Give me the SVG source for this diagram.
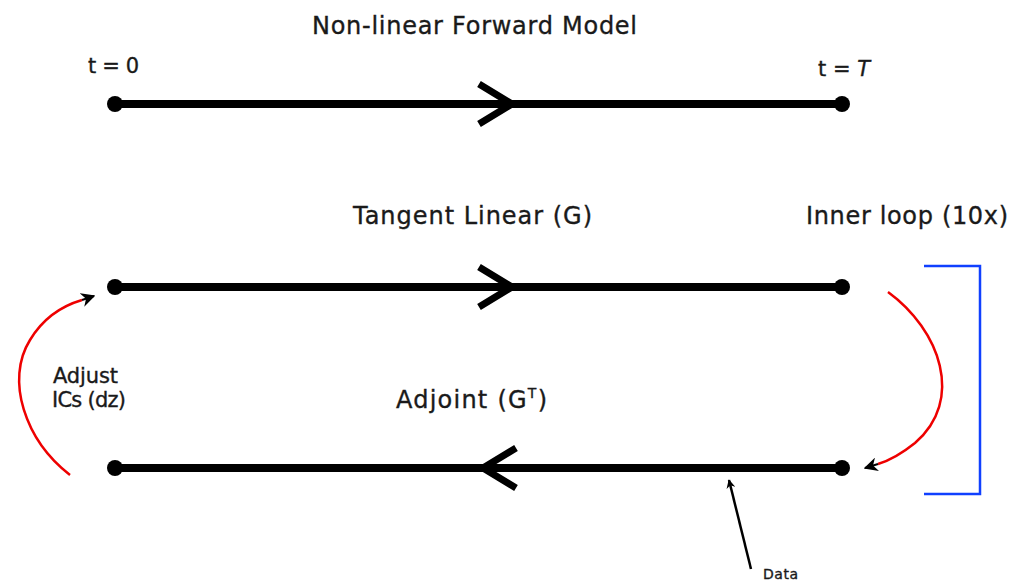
<svg xmlns="http://www.w3.org/2000/svg" width="1011" height="581" viewBox="0 0 1011 581">
<style>
text{font-family:"DejaVu Sans","Liberation Sans",sans-serif;fill:#1a1a1a;stroke:#1a1a1a;stroke-width:0.35}
.t{font-size:24px}
.s{font-size:21px}
.line{stroke:#000;stroke-width:8;fill:none}
.chev{stroke:#000;stroke-width:7;fill:none;stroke-linejoin:miter;stroke-linecap:butt}
.red{stroke:#e00;stroke-width:2.5;fill:none}
</style>
<defs>
<marker id="ah" viewBox="0 0 10 10" refX="9" refY="5" markerWidth="9" markerHeight="9" markerUnits="userSpaceOnUse" orient="auto"><path d="M0,0 L10,5 L0,10 L3,5 Z" fill="#000"/></marker>
<marker id="ah2" viewBox="0 0 10 10" refX="9" refY="5" markerWidth="14" markerHeight="14" markerUnits="userSpaceOnUse" orient="auto"><path d="M0,0 L10,5 L0,10 L3,5 Z" fill="#000"/></marker>
</defs>
<rect width="1011" height="581" fill="#fff"/>
<g id="forward">
<text class="t" x="312" y="34" textLength="325">Non-linear Forward Model</text>
<text class="s" x="88" y="73" textLength="51">t = 0</text>
<text class="s" x="818" y="76" textLength="52">t = <tspan font-style="italic">T</tspan></text>
<line class="line" x1="115" y1="104" x2="842" y2="104"/>
<circle cx="115" cy="104" r="8"/><circle cx="842" cy="104" r="8"/>
<path class="chev" d="M479,84 L512,104 L479,124"/>
</g>
<g id="tangent">
<text class="t" x="353" y="224" textLength="239">Tangent Linear (G)</text>
<line class="line" x1="115" y1="287" x2="842" y2="287"/>
<circle cx="115" cy="287" r="8"/><circle cx="842" cy="287" r="8"/>
<path class="chev" d="M479,267 L512,287 L479,307"/>
</g>
<g id="adjoint">
<text class="t" x="396" y="408" textLength="151">Adjoint (G<tspan font-size="14" dy="-10">T</tspan><tspan dy="10">)</tspan></text>
<line class="line" x1="115" y1="468" x2="842" y2="468"/>
<circle cx="115" cy="468" r="8"/><circle cx="842" cy="468" r="8"/>
<path class="chev" d="M516,448 L483,468 L516,488"/>
</g>
<g id="inner-loop">
<text class="t" x="806" y="224" textLength="202">Inner loop (10x)</text>
<path d="M924,266 H980 V494 H924" stroke="#1040ff" stroke-width="2.5" fill="none"/>
</g>
<g id="adjust">
<text class="s" x="53" y="383" textLength="65">Adjust</text>
<text class="s" x="52" y="407" textLength="74">ICs (dz)</text>
</g>
<g id="data">
<text x="763" y="579" font-size="14" textLength="35">Data</text>
</g>
<g id="connectors">
<path class="red" d="M70,475 C25,440 5,380 30,340 C45,315 65,305 82,300" />
<path d="M82,300 L94,296" stroke="#000" stroke-width="2" marker-end="url(#ah2)"/>
<path class="red" d="M888,292 C940,330 965,400 915,443 C900,455 888,461 878,464"/>
<path d="M878,464 L865,468" stroke="#000" stroke-width="2" marker-end="url(#ah2)"/>
<path d="M751,569 L729,480" stroke="#000" stroke-width="2.5" marker-end="url(#ah)"/>
</g>
</svg>
